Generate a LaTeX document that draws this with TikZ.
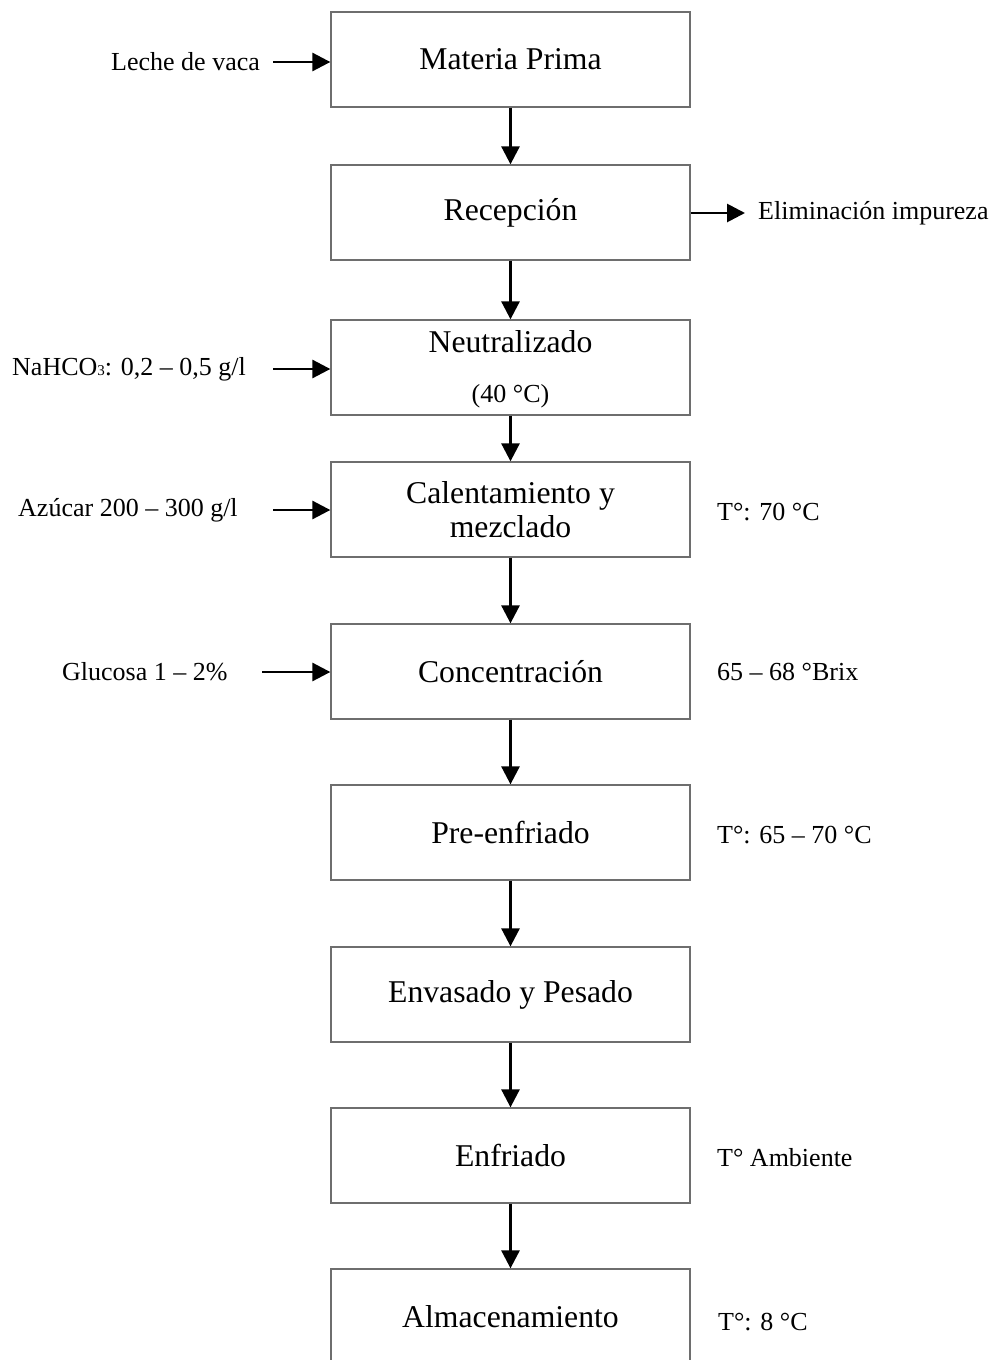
\documentclass[tikz,border=0pt]{standalone}
\usepackage{fontspec}
\setmainfont{Liberation Serif}
\usetikzlibrary{arrows.meta}
\definecolor{boxgray}{RGB}{110,110,110}
\begin{document}
\begin{tikzpicture}[x=1pt,y=-1pt,
  stepbox/.style={draw=boxgray,line width=1.3pt,rectangle,minimum width=359pt,minimum height=95pt,inner sep=0pt,font=\fontsize{31.7pt}{34pt}\selectfont,align=center},
  bigtxt/.style={inner sep=0pt,font=\fontsize{31.7pt}{34pt}\selectfont,align=center},
  smalltxt/.style={inner sep=0pt,font=\fontsize{26pt}{30pt}\selectfont},
  arr/.style={line width=2.8pt,-{Triangle[length=18pt,width=18pt]}}]
\useasboundingbox (0,0) rectangle (995,1360);
% boxes
\node[stepbox] (b1) at (510.5,59.5) {Materia Prima};
\node[stepbox] (b2) at (510.5,212.5) {Recepción};
\node[stepbox] (b3) at (510.5,367.5) {};
\node[bigtxt] (t3) at (510.5,342) {Neutralizado};
\node[smalltxt] (t3b) at (510.5,396) {(40 °C)};
\node[stepbox] (b4) at (510.5,509.5) {Calentamiento y\\mezclado};
\node[stepbox] (b5) at (510.5,671.5) {Concentración};
\node[stepbox] (b6) at (510.5,832.5) {Pre-enfriado};
\node[stepbox] (b7) at (510.5,994.5) {Envasado y Pesado};
\node[stepbox] (b8) at (510.5,1155.5) {Enfriado};
\node[stepbox] (b9) at (510.5,1316.5) {Almacenamiento};
% vertical arrows
\draw[arr] (b1.south) -- (b2.north);
\draw[arr] (b2.south) -- (b3.north);
\draw[arr] (b3.south) -- (b4.north);
\draw[arr] (b4.south) -- (b5.north);
\draw[arr] (b5.south) -- (b6.north);
\draw[arr] (b6.south) -- (b7.north);
\draw[arr] (b7.south) -- (b8.north);
\draw[arr] (b8.south) -- (b9.north);
% left inputs
\node[smalltxt,anchor=west] (l1) at (111,62) {Leche de vaca};
\coordinate (a1) at (273,62);
\draw[arr] (a1) -- (a1 -| b1.west);
\node[smalltxt,anchor=west] (l3) at (12,369) {NaHCO{\fontsize{15pt}{15pt}\selectfont 3}: 0,2 – 0,5 g/l};
\coordinate (a3) at (273,369);
\draw[arr] (a3) -- (a3 -| b3.west);
\node[smalltxt,anchor=west] (l4) at (18,510) {Azúcar 200 – 300 g/l};
\coordinate (a4) at (273,510);
\draw[arr] (a4) -- (a4 -| b4.west);
\node[smalltxt,anchor=west] (l5) at (62,672) {Glucosa 1 – 2\%};
\coordinate (a5) at (262,672);
\draw[arr] (a5) -- (a5 -| b5.west);
% right output
\coordinate (e2) at (745,213);
\draw[arr] (e2 -| b2.east) -- (e2);
\node[smalltxt,anchor=west] (r2) at (758,213) {Eliminación impureza};
% right conditions
\node[smalltxt,anchor=west] (r4) at (717,512) {T°: 70 °C};
\node[smalltxt,anchor=west] (r5) at (717,672) {65 – 68 °Brix};
\node[smalltxt,anchor=west] (r6) at (717,835) {T°: 65 – 70 °C};
\node[smalltxt,anchor=west] (r8) at (717,1158) {T° Ambiente};
\node[smalltxt,anchor=west] (r9) at (718,1322) {T°: 8 °C};
\end{tikzpicture}
\end{document}
